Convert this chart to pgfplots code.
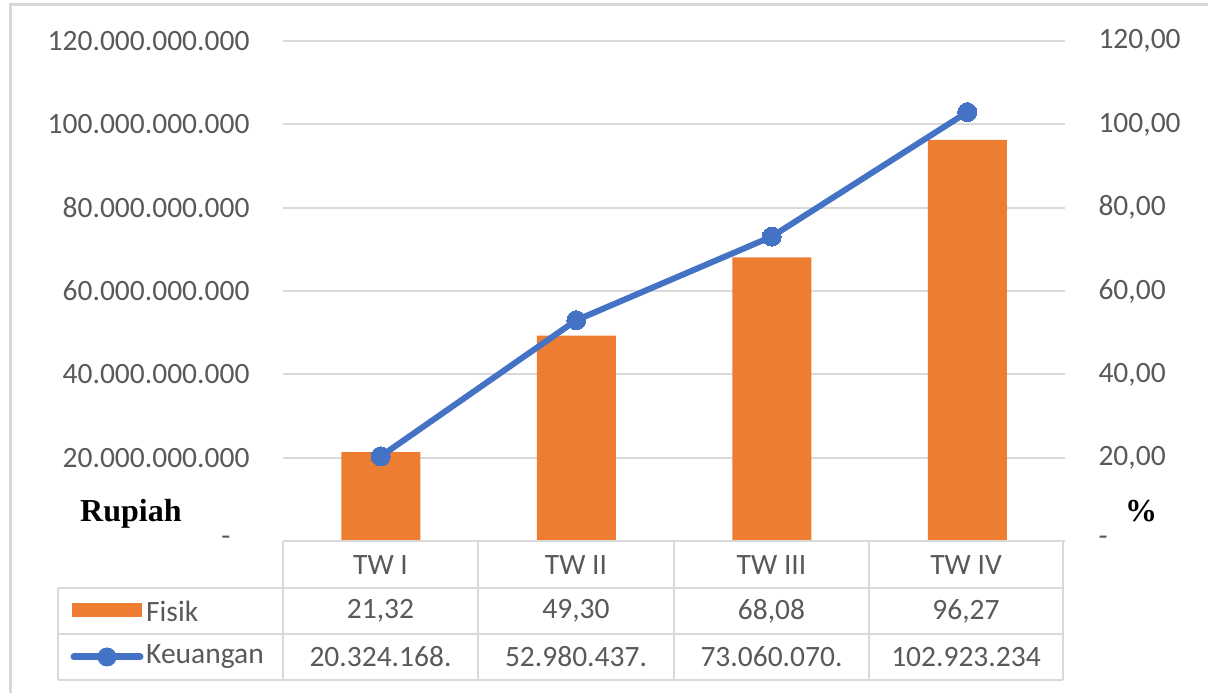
\documentclass[border=0pt]{standalone}
\usepackage{pgfplots}
\pgfplotsset{compat=1.18}
\usepackage{fontspec}
\setmainfont{Carlito}
\newfontfamily\timesfont{Liberation Serif}
\definecolor{xlorange}{HTML}{ED7D31}
\definecolor{xlblue}{HTML}{4472C4}
\definecolor{xltext}{HTML}{595959}
\definecolor{xlgrid}{HTML}{D9D9D9}
\begin{document}
\begin{tikzpicture}[x=1pt,y=1pt,font=\fontsize{29.5}{35}\selectfont]
\useasboundingbox (0,0) rectangle (1208,693);
% frame
\draw[xlgrid, line width=3pt] (10,0) -- (10,688) -- (1208,688);
\pgfplotsset{base/.style={
  scale only axis, width=782pt, height=500pt, at={(283pt,152pt)}, anchor=south west,
  xmin=-0.5, xmax=3.5, axis x line=none, xtick=\empty,
  y axis line style={draw=none}, major tick length=0pt,
  ticklabel style={text=xltext, font=\fontsize{29.5}{35}\selectfont},
  /pgf/number format/assume math mode=true,
  scaled y ticks=false,
  clip=false}}
% bars, right axis (percent)
\begin{axis}[base, axis y line*=right,
  ymin=0, ymax=120, ytick={0,20,40,60,80,100,120},
  yticklabels={-,{20,00},{40,00},{60,00},{80,00},{100,00},{120,00}},
  yticklabel style={anchor=west, xshift=30pt},
  ymajorgrids, grid style={xlgrid, line width=2pt}]
\addplot[ybar, bar width=79pt, bar shift=0pt, fill=xlorange, draw=none]
  coordinates {(0,21.32) (1,49.30) (2,68.08) (3,96.27)};
\end{axis}
% line, left axis (Rupiah)
\begin{axis}[base, axis y line*=left,
  ymin=0, ymax=120000000000,
  ytick={0,20000000000,40000000000,60000000000,80000000000,100000000000,120000000000},
  yticklabels={{\makebox[28pt][l]{-}},20.000.000.000,40.000.000.000,60.000.000.000,80.000.000.000,100.000.000.000,120.000.000.000},
  yticklabel style={anchor=east, xshift=-30pt}]
\addplot[xlblue, line width=6pt, mark=*, mark size=9.5pt, mark options={fill=xlblue, draw=xlblue, line width=0pt}]
  coordinates {(0,20324168000) (1,52980437000) (2,73060070000) (3,102923234000)};
\end{axis}
% data table
\begin{scope}[xlgrid, line width=2pt]
\draw (283,152) -- (1063,152);
\draw (58,105) -- (1063,105);
\draw (58,59) -- (1063,59);
\draw (58,13) -- (1063,13);
\draw (58,105) -- (58,13);
\foreach \xx in {283,478,674,869,1063} { \draw (\xx,152) -- (\xx,13); }
\end{scope}
\begin{scope}[text=xltext]
\node at (380.5,128) {TW I};
\node at (576,128) {TW II};
\node at (771.5,128) {TW III};
\node at (966,128) {TW IV};
\node at (380.5,82) {21,32};
\node at (576,82) {49,30};
\node at (771.5,82) {68,08};
\node at (966,82) {96,27};
\node at (380.5,36) {20.324.168.};
\node at (576,36) {52.980.437.};
\node at (771.5,36) {73.060.070.};
\node at (966,36) {102.923.234};
\node[anchor=west, inner sep=0pt] at (146,82) {Fisik};
\node[anchor=west, inner sep=0pt] at (146,36) {Keuangan};
\end{scope}
\fill[xlorange] (72,76) rectangle (142,90);
\draw[xlblue, line width=7pt, line cap=round] (74,36) -- (140,36);
\fill[xlblue] (107,36) circle (9.5);
\node[anchor=base west, inner sep=0pt, font=\timesfont\bfseries\fontsize{32}{38}\selectfont] at (80,171) {Rupiah};
\node[anchor=base west, inner sep=0pt, font=\timesfont\bfseries\fontsize{32}{38}\selectfont] at (1125,171) {\%};
\end{tikzpicture}
\end{document}
